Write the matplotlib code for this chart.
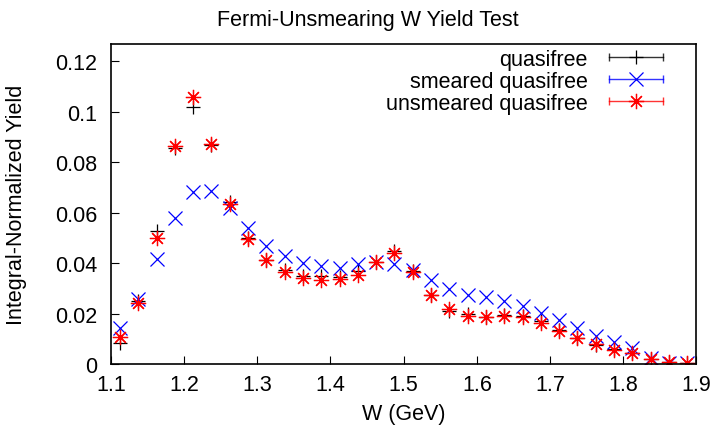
import numpy as np
import matplotlib
matplotlib.use("Agg")
import matplotlib.pyplot as plt
from matplotlib.lines import Line2D
from matplotlib.legend_handler import HandlerLine2D, HandlerTuple

plt.rcParams['font.family'] = ['Liberation Sans', 'DejaVu Sans']

# Centros de los bins en W (GeV)
w = np.arange(1.1125, 1.9, 0.025)

# quasifree (negro)
quasifree = [0.0083, 0.0250, 0.0528, 0.0858, 0.1020, 0.0870, 0.0643, 0.0500,
             0.0411, 0.0374, 0.0351, 0.0349, 0.0347, 0.0370, 0.0404, 0.0448,
             0.0368, 0.0272, 0.0212, 0.0199, 0.0188, 0.0195, 0.0192, 0.0172,
             0.0135, 0.0102, 0.0077, 0.0060, 0.0045, 0.0020, 0.0007, 0.0004]
# smeared quasifree (azul)
smeared = [0.0142, 0.0258, 0.0415, 0.0580, 0.0683, 0.0688, 0.0620, 0.0540,
           0.0470, 0.0428, 0.0400, 0.0387, 0.0382, 0.0398, 0.0404, 0.0395,
           0.0374, 0.0334, 0.0298, 0.0274, 0.0264, 0.0252, 0.0229, 0.0201,
           0.0175, 0.0142, 0.0113, 0.0089, 0.0064, 0.0025, 0.0006, 0.0003]
# unsmeared quasifree (rojo)
unsmeared = [0.0106, 0.0243, 0.0500, 0.0866, 0.1058, 0.0874, 0.0636, 0.0494,
             0.0411, 0.0365, 0.0342, 0.0334, 0.0338, 0.0354, 0.0404, 0.0441,
             0.0365, 0.0272, 0.0219, 0.0192, 0.0188, 0.0192, 0.0186, 0.0162,
             0.0130, 0.0102, 0.0080, 0.0056, 0.0043, 0.0020, 0.0007, 0.0004]

etiquetas = ["quasifree", "smeared quasifree", "unsmeared quasifree"]
colores = ["black", "blue", "red"]
marcadores = ["+", "x", (8, 2, 0)]
tamanos = [10, 9.5, 11]

fs = 15.5
fig = plt.figure(figsize=(7.15, 4.31), dpi=100)
ax = fig.add_axes([0.155, 0.153, 0.819, 0.743])

series = [quasifree, smeared, unsmeared]
for y, c, m, s in zip(series, colores, marcadores, tamanos):
    ax.plot(w, y, linestyle="none", marker=m, color=c, markersize=s, markeredgewidth=0.9)

ax.set_xlim(1.1, 1.9)
ax.set_ylim(0, 0.127)
ax.set_xticks(np.arange(1.1, 1.91, 0.1))
ax.set_yticks([0, 0.02, 0.04, 0.06, 0.08, 0.1, 0.12])
ax.xaxis.set_major_formatter(matplotlib.ticker.FormatStrFormatter('%g'))
ax.yaxis.set_major_formatter(matplotlib.ticker.FormatStrFormatter('%g'))
ax.tick_params(direction="in", length=6, width=0.8, labelsize=fs)
ax.tick_params(axis="y", pad=10)
ax.tick_params(axis="x", pad=7)
for sp in ax.spines.values():
    sp.set_linewidth(1.2)

ax.set_xlabel("W (GeV)", fontsize=fs, labelpad=6)
ax.set_ylabel("Integral-Normalized Yield", fontsize=fs, labelpad=20)
fig.text(0.515, 0.94, "Fermi-Unsmearing W Yield Test", fontsize=fs,
         ha="center", va="baseline")

# Leyenda estilo gnuplot: linea con topes y marcador al centro
handles = []
hmap = {}
for c, m, s in zip(colores, marcadores, tamanos):
    barra = Line2D([], [], color=c, linewidth=1.0, marker="|", markersize=6,
                   markeredgewidth=1.0, alpha=0.8)
    punto = Line2D([], [], color=c, linestyle="none", marker=m, markersize=s,
                   markeredgewidth=0.9)
    hmap[barra] = HandlerLine2D(numpoints=2)
    hmap[punto] = HandlerLine2D(numpoints=1)
    handles.append((barra, punto))
hmap[tuple] = HandlerTuple(ndivide=1, pad=0)
ax.legend(handles, etiquetas, handler_map=hmap, loc="upper right",
          bbox_to_anchor=(0.954, 0.985), borderaxespad=0, borderpad=0,
          frameon=False, markerfirst=False, fontsize=fs, handlelength=3.1,
          handletextpad=0.7, labelspacing=0.05)

fig.savefig("out.png", dpi=100)
